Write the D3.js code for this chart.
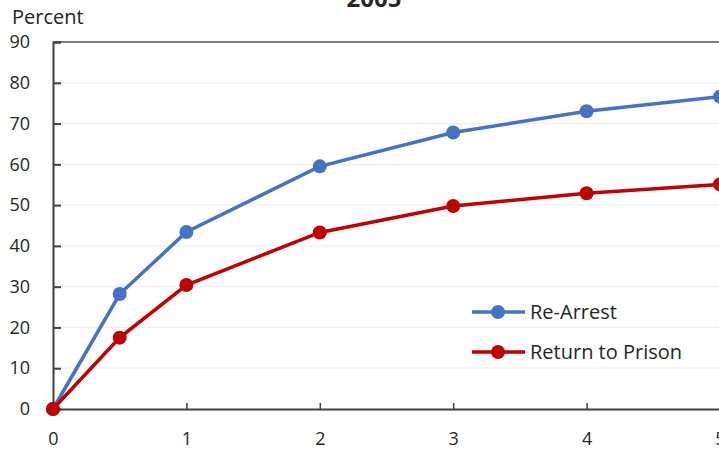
<!DOCTYPE html>
<html><head><meta charset="utf-8">
<script src="https://cdn.jsdelivr.net/npm/d3@7"></script>
<style>body{margin:0;background:#fff;overflow:hidden}svg{display:block}text{font-family:"Open Sans",sans-serif;fill:#262626}</style>
</head><body>
<svg id="c" width="719" height="451"></svg>
<script>
const years = [0, 0.5, 1, 2, 3, 4, 5];
const reArrest = [0, 28.2, 43.4, 59.5, 67.8, 73.0, 76.6];
const returnPrison = [0, 17.5, 30.4, 43.3, 49.8, 52.9, 55.1];
const xTicks = [0, 1, 2, 3, 4, 5];
const yTicks = [0, 10, 20, 30, 40, 50, 60, 70, 80, 90];
const seriesNames = ["Re-Arrest", "Return to Prison"];
const colors = ["#4472C4", "#C00000"];
const title = "2005";

const svg = d3.select("#c");
const x = d3.scaleLinear().domain([0, 5]).range([53, 720]);
const y = d3.scaleLinear().domain([0, 90]).range([409, 42]);

// gridlines
svg.append("g").selectAll("line").data(yTicks.filter(d => d > 0 && d < 90)).join("line")
  .attr("x1", x(0)).attr("x2", 719).attr("y1", d => y(d)).attr("y2", d => y(d))
  .attr("stroke", "#f0f0f0").attr("stroke-width", 1.3);
svg.append("line").attr("x1", x(0)).attr("x2", 719).attr("y1", y(90)).attr("y2", y(90))
  .attr("stroke", "#7f7f7f").attr("stroke-width", 2);

// y axis
const yAx = svg.append("g").attr("transform", `translate(${x(0)},0)`)
  .call(d3.axisLeft(y).tickValues(yTicks).tickSize(-8).tickPadding(23).tickFormat(d3.format("d")));
yAx.select(".domain").attr("stroke", "#404040").attr("stroke-width", 2);
yAx.selectAll(".tick line").attr("stroke", "#404040").attr("stroke-width", 2);
yAx.selectAll("text").attr("font-size", 18).attr("fill", "#262626").attr("font-family", "'Open Sans',sans-serif");

// x axis
const xAx = svg.append("g").attr("transform", `translate(0,${y(0)})`)
  .call(d3.axisBottom(x).tickValues(xTicks).tickSize(-6).tickPadding(23).tickFormat(d3.format("d")));
xAx.select(".domain").attr("stroke", "#404040").attr("stroke-width", 2);
xAx.selectAll(".tick line").attr("stroke", "#404040").attr("stroke-width", 1.5);
xAx.selectAll("text").attr("font-size", 18).attr("fill", "#262626").attr("font-family", "'Open Sans',sans-serif");

const line = d3.line().x((d, i) => x(years[i])).y(d => y(d));
[reArrest, returnPrison].forEach((s, k) => {
  svg.append("path").datum(s).attr("d", line).attr("fill", "none")
    .attr("stroke", colors[k]).attr("stroke-width", 3.5);
  svg.append("g").selectAll("circle").data(s).join("circle")
    .attr("cx", (d, i) => x(years[i])).attr("cy", d => y(d)).attr("r", 7).attr("fill", colors[k]);
});

// legend
seriesNames.forEach((n, k) => {
  const ly = 312 + k * 40;
  svg.append("line").attr("x1", 472).attr("x2", 525).attr("y1", ly).attr("y2", ly)
    .attr("stroke", colors[k]).attr("stroke-width", 3.5);
  svg.append("circle").attr("cx", 498).attr("cy", ly).attr("r", 7).attr("fill", colors[k]);
  svg.append("text").attr("x", 530).attr("y", ly + 7).attr("font-size", 20).text(n);
});

svg.append("text").attr("x", 12).attr("y", 24).attr("font-size", 20).text("Percent");
svg.append("text").attr("x", 374).attr("y", 7).attr("text-anchor", "middle")
  .attr("font-size", 24).attr("font-weight", "bold").text(title);
</script>
</body></html>
